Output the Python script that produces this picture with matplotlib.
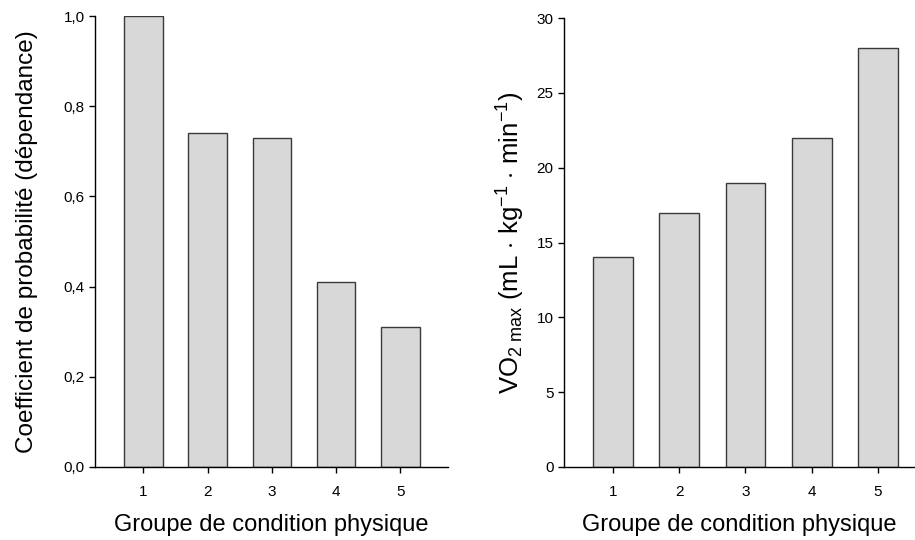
import numpy as np
import matplotlib
matplotlib.use('Agg')
import matplotlib.pyplot as plt

plt.rcParams['font.family'] = ['Liberation Sans', 'DejaVu Sans']
plt.rcParams['mathtext.fontset'] = 'custom'
plt.rcParams['mathtext.rm'] = 'Liberation Sans'
plt.rcParams['mathtext.it'] = 'Liberation Sans:italic'

# data
groupes = [1, 2, 3, 4, 5]
coef_dep = [1.0, 0.74, 0.73, 0.41, 0.31]
vo2max = [14, 17, 19, 22, 28]

left_ticks = [0.0, 0.2, 0.4, 0.6, 0.8, 1.0]
left_ticklabels = ['0,0', '0,2', '0,4', '0,6', '0,8', '1,0']
right_ticks = [0, 5, 10, 15, 20, 25, 30]

xlabel = 'Groupe de condition physique'
ylabel_left = 'Coefficient de probabilité (dépendance)'
ylabel_right = r'VO$_{2\ \mathrm{max}}$ (mL $\cdot$ kg$^{-1}$ $\cdot$ min$^{-1}$)'

fig = plt.figure(figsize=(9.15, 5.4), dpi=100)
ax1 = fig.add_axes([95/915, 73/540, 353/915, 451/540])
ax2 = fig.add_axes([564/915, 73/540, 351/915, 449/540])

bar_kw = dict(width=0.6, color='#d8d8d8', edgecolor='#3a3a3a', linewidth=1.0)

def style(ax):
    ax.spines['top'].set_visible(False)
    ax.spines['right'].set_visible(False)
    ax.spines['left'].set_linewidth(1.0)
    ax.spines['bottom'].set_linewidth(1.0)
    ax.tick_params(axis='both', direction='out', length=4, width=1.0, labelsize=11)
    ax.tick_params(axis='x', pad=9)
    ax.set_xticks(groupes)
    ax.set_xlabel(xlabel, fontsize=17, labelpad=11)

ax1.bar(groupes, coef_dep, **bar_kw)
ax1.set_xlim(0.25, 5.74)
ax1.set_ylim(0, 1.0)
ax1.set_yticks(left_ticks)
ax1.set_yticklabels(left_ticklabels)
style(ax1)
ax1.set_ylabel(ylabel_left, fontsize=17.5, labelpad=18)

ax2.bar(groupes, vo2max, **bar_kw)
ax2.set_xlim(0.26, 5.56)
ax2.set_ylim(0, 30)
ax2.set_yticks(right_ticks)
style(ax2)
ax2.set_ylabel(ylabel_right, fontsize=18.5, labelpad=7)

fig.savefig('out.png', dpi=100)
